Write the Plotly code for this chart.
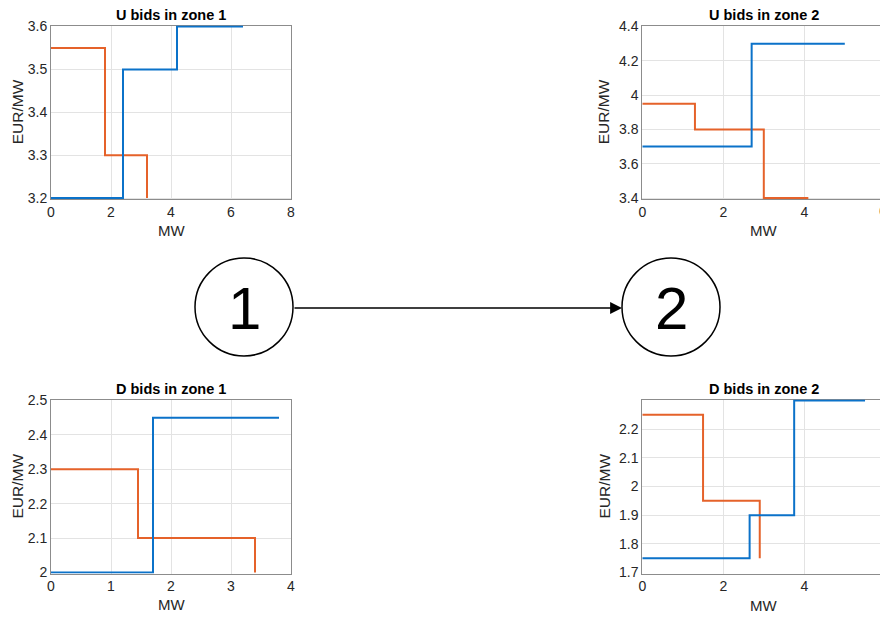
import plotly.graph_objects as go

W, H = 880, 618

# ---- data (MW breakpoints, EUR/MW prices) ----
u1_blue_mw = [0, 2.4, 4.2, 6.4]
u1_blue_price = [3.2, 3.5, 3.6, 3.6]
u1_orange_mw = [0, 1.8, 3.2]
u1_orange_price = [3.55, 3.3, 3.2]

u2_blue_mw = [0, 2.7, 5.0]
u2_blue_price = [3.7, 4.3, 4.3]
u2_orange_mw = [0, 1.3, 3.0, 4.1]
u2_orange_price = [3.95, 3.8, 3.4, 3.4]

d1_blue_mw = [0, 1.7, 3.8]
d1_blue_price = [2.0, 2.45, 2.45]
d1_orange_mw = [0, 1.45, 3.4]
d1_orange_price = [2.3, 2.1, 2.0]

d2_blue_mw = [0, 2.65, 3.75, 5.5]
d2_blue_price = [1.75, 1.9, 2.3, 2.3]
d2_orange_mw = [0, 1.5, 2.9]
d2_orange_price = [2.25, 1.95, 1.75]

titles = ["U bids in zone 1", "U bids in zone 2", "D bids in zone 1", "D bids in zone 2"]
u1_yticks = [3.2, 3.3, 3.4, 3.5, 3.6]
u2_yticks = [3.4, 3.6, 3.8, 4.0, 4.2, 4.4]
u2_yticktext = ["3.4", "3.6", "3.8", "4", "4.2", "4.4"]
d1_yticks = [2.0, 2.1, 2.2, 2.3, 2.4, 2.5]
d1_yticktext = ["2", "2.1", "2.2", "2.3", "2.4", "2.5"]
d2_yticks = [1.7, 1.8, 1.9, 2.0, 2.1, 2.2]
d2_yticktext = ["1.7", "1.8", "1.9", "2", "2.1", "2.2"]
node_labels = ["1", "2"]

BLUE = "#0b72c9"
ORANGE = "#e5622a"
FONT = "Liberation Sans, Arial, sans-serif"

def px(x):
    return x / W

def py(y):
    return 1 - y / H

def ydom(top_px, bot_px, lo, hi, pad=1.0):
    k = (hi - lo) / (bot_px - top_px)
    return [py(bot_px + pad), py(top_px - pad)], [lo - pad * k, hi + pad * k]

fig = go.Figure()

panels = [
    ("x", "y", u1_blue_mw, u1_blue_price, u1_orange_mw, u1_orange_price),
    ("x2", "y2", u2_blue_mw, u2_blue_price, u2_orange_mw, u2_orange_price),
    ("x3", "y3", d1_blue_mw, d1_blue_price, d1_orange_mw, d1_orange_price),
    ("x4", "y4", d2_blue_mw, d2_blue_price, d2_orange_mw, d2_orange_price),
]
for xa, ya, bx, by, ox, oy in panels:
    fig.add_trace(go.Scatter(x=ox, y=oy, mode="lines", line=dict(color=ORANGE, width=2, shape="hv"),
                             xaxis=xa, yaxis=ya, showlegend=False, hoverinfo="skip"))
    fig.add_trace(go.Scatter(x=bx, y=by, mode="lines", line=dict(color=BLUE, width=2, shape="hv"),
                             xaxis=xa, yaxis=ya, showlegend=False, hoverinfo="skip"))

common = dict(showgrid=True, gridcolor="#e3e3e3", gridwidth=1, showline=True, linecolor="#8c8c8c",
              linewidth=1, zeroline=False, ticks="", tickfont=dict(family=FONT, size=14, color="#262626"),
              fixedrange=True, automargin=False, layer="below traces")

# pixel geometry
L_left, L_right = 51, 291
R_left, R_right = 642.3, 885.3
top_t, top_b = 26.5, 198
bot_t, bot_b = 400.5, 572.5
r_xmax = 6 * (W - R_left) / (R_right - R_left)

yd1, yr1 = ydom(top_t, top_b, 3.2, 3.6)
yd2, yr2 = ydom(top_t, top_b, 3.4, 4.4)
yd3, yr3 = ydom(bot_t, bot_b, 2.0, 2.5)
yd4, yr4 = ydom(bot_t, bot_b, 1.7, 2.3)

fig.update_layout(
    width=W, height=H, margin=dict(l=0, r=0, t=0, b=0, pad=0, autoexpand=False),
    paper_bgcolor="white", plot_bgcolor="white", showlegend=False,
    xaxis=dict(domain=[px(L_left), px(L_right)], range=[0, 8], tickvals=[0, 2, 4, 6, 8], mirror=True,
               anchor="y", **common),
    yaxis=dict(domain=yd1, range=yr1, tickvals=u1_yticks, mirror=True, anchor="x", **common),
    xaxis2=dict(domain=[px(R_left), 1], range=[0, r_xmax], tickvals=[0, 2, 4, 6], mirror=True,
                anchor="y2", **common),
    yaxis2=dict(domain=yd2, range=yr2, tickvals=u2_yticks, ticktext=u2_yticktext,
                mirror=False, anchor="x2", **common),
    xaxis3=dict(domain=[px(L_left), px(L_right)], range=[0, 4], tickvals=[0, 1, 2, 3, 4], mirror=True,
                anchor="y3", **common),
    yaxis3=dict(domain=yd3, range=yr3, tickvals=d1_yticks, ticktext=d1_yticktext,
                mirror=True, anchor="x3", **common),
    xaxis4=dict(domain=[px(R_left), 1], range=[0, r_xmax], tickvals=[0, 2, 4, 6], mirror=True,
                anchor="y4", **common),
    yaxis4=dict(domain=yd4, range=yr4, tickvals=d2_yticks, ticktext=d2_yticktext,
                mirror=False, anchor="x4", **common),
)

ann = []
title_pos = [((L_left + L_right) / 2, 15), ((R_left + R_right) / 2, 15),
             ((L_left + L_right) / 2, 389), ((R_left + R_right) / 2, 389)]
for t, (tx, ty) in zip(titles, title_pos):
    ann.append(dict(x=px(tx), y=py(ty), xref="paper", yref="paper", text="<b>%s</b>" % t, showarrow=False,
                    font=dict(family=FONT, size=14.5, color="black"), xanchor="center", yanchor="middle"))
mw_pos = [((L_left + L_right) / 2, 230), ((R_left + R_right) / 2, 230),
          ((L_left + L_right) / 2, 604), ((R_left + R_right) / 2, 605)]
for tx, ty in mw_pos:
    ann.append(dict(x=px(tx), y=py(ty), xref="paper", yref="paper", text="MW", showarrow=False,
                    font=dict(family=FONT, size=15, color="#262626"), xanchor="center", yanchor="middle"))
eur_pos = [(17, (top_t + top_b) / 2), (603, (top_t + top_b) / 2),
           (17, (bot_t + bot_b) / 2), (604, (bot_t + bot_b) / 2)]
for tx, ty in eur_pos:
    ann.append(dict(x=px(tx), y=py(ty), xref="paper", yref="paper", text="EUR/MW", showarrow=False, textangle=-90,
                    font=dict(family=FONT, size=15.5, color="#262626"), xanchor="center", yanchor="middle"))

# partially visible "6" tick label at the cropped right edge of the upper-right panel
ann.append(dict(x=px(883), y=py(211), xref="paper", yref="paper", text="6", showarrow=False,
                font=dict(family=FONT, size=14, color="#262626"), xanchor="center", yanchor="middle"))

# network nodes
nodes = [(244, 307), (671, 307)]
r = 49
shapes = []
for (cx, cy), lab in zip(nodes, node_labels):
    shapes.append(dict(type="circle", xref="paper", yref="paper", x0=px(cx - r), x1=px(cx + r),
                       y0=py(cy + r), y1=py(cy - r), line=dict(color="black", width=1.5)))
    ann.append(dict(x=px(cx), y=py(cy + 1), xref="paper", yref="paper", text=lab, showarrow=False,
                    font=dict(family=FONT, size=60, color="black"), xanchor="center", yanchor="middle"))

ann.append(dict(x=px(nodes[1][0] - r), y=py(308), xref="paper", yref="paper", text="",
                showarrow=True, ax=-(nodes[1][0] - nodes[0][0] - 2 * r), ay=0,
                arrowhead=2, arrowsize=1.7, arrowwidth=1.4, arrowcolor="black"))

fig.update_layout(annotations=ann, shapes=shapes)
fig.write_html("out.html", config={"displayModeBar": False, "responsive": False},
               post_script="document.body.style.margin='0';document.body.style.padding='0';"
                           "document.body.style.overflow='hidden';")
